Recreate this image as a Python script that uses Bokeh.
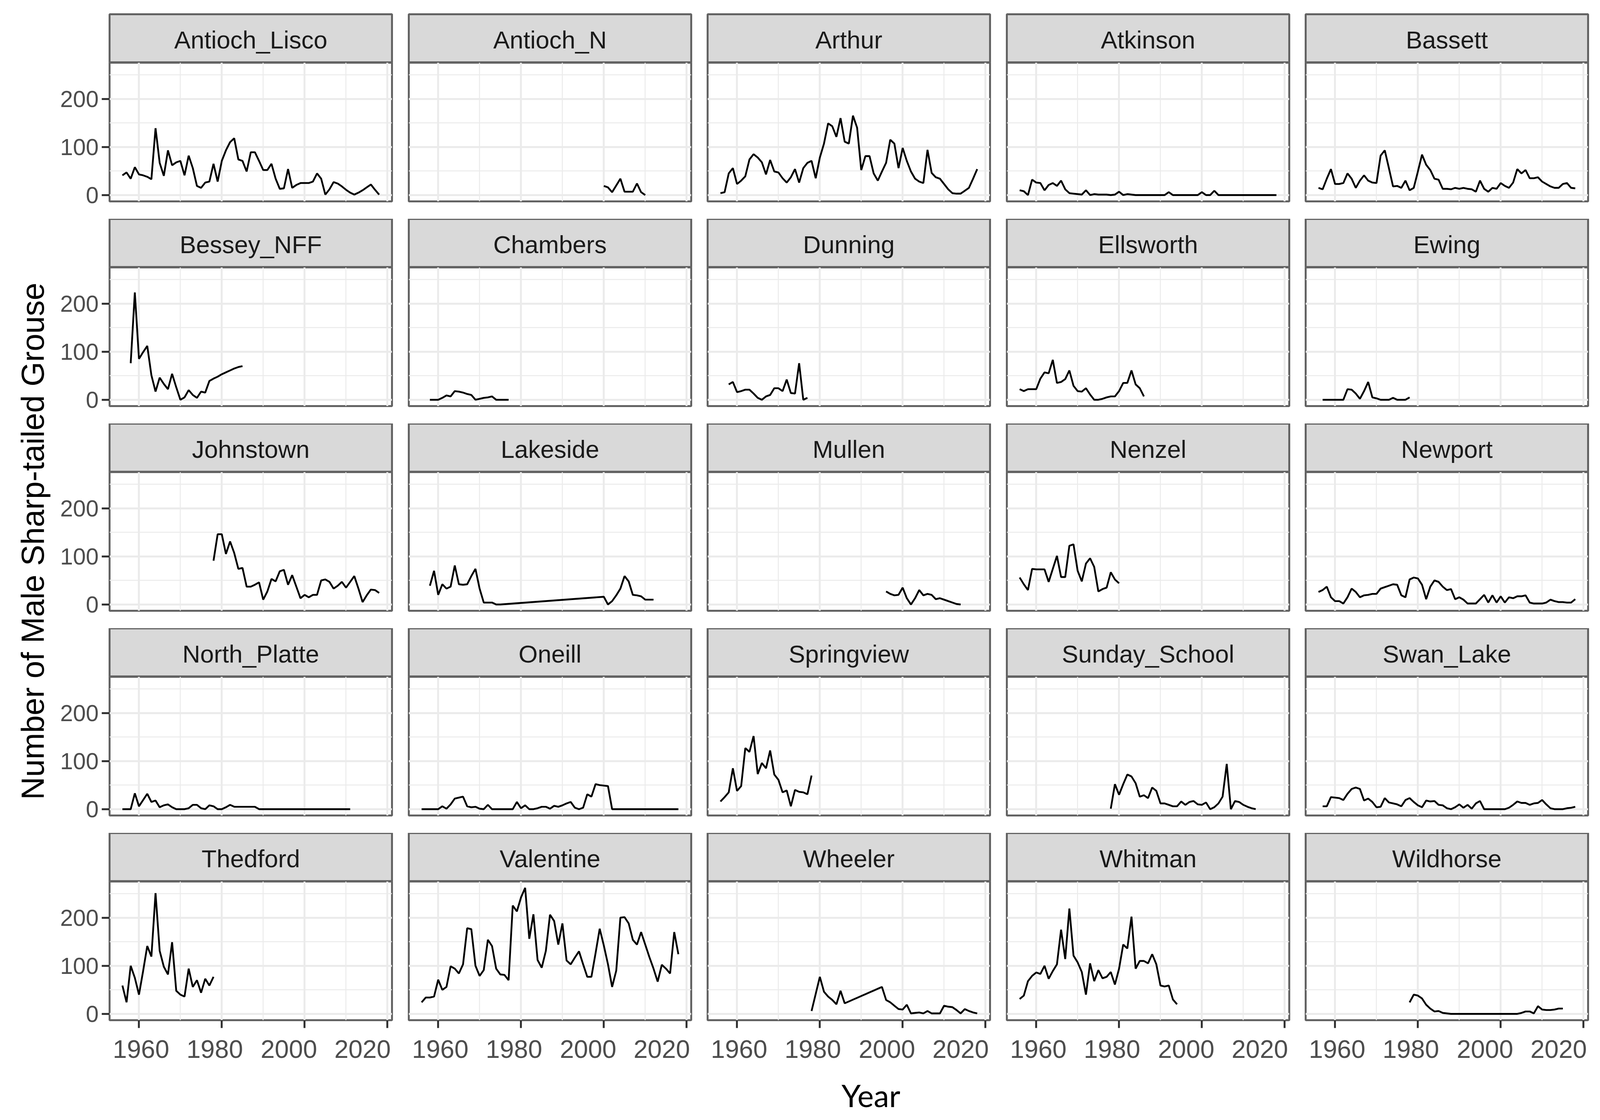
import math
from bokeh.plotting import figure
from bokeh.layouts import row, column
from bokeh.models import Range1d, FixedTicker, LinearAxis
from bokeh.embed import file_html
from bokeh.resources import INLINE
from bokeh.core.properties import value

# ---------------- data ----------------
SITES = ["Antioch_Lisco", "Antioch_N", "Arthur", "Atkinson", "Bassett",
         "Bessey_NFF", "Chambers", "Dunning", "Ellsworth", "Ewing",
         "Johnstown", "Lakeside", "Mullen", "Nenzel", "Newport",
         "North_Platte", "Oneill", "Springview", "Sunday_School", "Swan_Lake",
         "Thedford", "Valentine", "Wheeler", "Whitman", "Wildhorse"]

X_TICKS = [1960, 1980, 2000, 2020]
X_TICK_LABELS = ["1960", "1980", "2000", "2020"]
X_MINOR = [1950, 1970, 1990, 2010]
Y_TICKS = [0, 100, 200]
Y_MINOR = [50, 150, 250]
Y_TITLE = "Number of Male Sharp-tailed Grouse"
X_TITLE = "Year"

YR_ANTIOCH_LISCO = list(range(1956, 2019))
N_ANTIOCH_LISCO = [41, 47, 34, 58, 43, 41, 38, 33, 139, 67,
                   40, 93, 62, 68, 71, 41, 82, 56, 19, 15,
                   26, 28, 65, 28, 71, 93, 110, 118, 74, 71,
                   49, 89, 89, 71, 52, 52, 65, 34, 13, 14,
                   54, 15, 21, 25, 25, 25, 28, 45, 34, 1,
                   12, 27, 24, 18, 11, 5, 1, 5, 10, 16,
                   22, 11, 1]

YR_ANTIOCH_N = list(range(2000, 2011))
N_ANTIOCH_N = [19, 16, 6, 20, 34, 7, 7, 7, 24, 6, 0]

YR_ARTHUR = list(range(1956, 2019))
N_ARTHUR = [4, 6, 45, 56, 23, 30, 39, 74, 85, 78,
            68, 43, 73, 49, 47, 35, 26, 37, 54, 26,
            56, 67, 71, 35, 78, 107, 149, 143, 121, 160,
            111, 107, 165, 140, 52, 81, 81, 45, 30, 49,
            67, 115, 107, 56, 98, 71, 49, 34, 28, 25,
            94, 46, 37, 34, 23, 12, 4, 3, 3, 9,
            15, 34, 54]

YR_ATKINSON = list(range(1956, 2019))
N_ATKINSON = [10, 8, 0, 32, 26, 25, 10, 21, 25, 19,
              30, 12, 4, 3, 2, 1, 10, 0, 2, 1,
              1, 1, 0, 1, 7, 0, 2, 1, 0, 0,
              0, 0, 0, 0, 0, 0, 6, 0, 0, 0,
              0, 0, 0, 0, 6, 0, 0, 9, 0, 0,
              0, 0, 0, 0, 0, 0, 0, 0, 0, 0,
              0, 0, 0]

YR_BASSETT = list(range(1956, 2019))
N_BASSETT = [15, 12, 34, 54, 23, 23, 25, 45, 34, 15,
             30, 41, 30, 26, 25, 82, 93, 56, 18, 19,
             15, 30, 10, 15, 49, 84, 63, 52, 34, 32,
             13, 13, 12, 15, 13, 15, 13, 12, 7, 30,
             13, 7, 15, 13, 25, 19, 15, 26, 54, 45,
             52, 35, 35, 37, 28, 23, 18, 15, 15, 23,
             25, 15, 14]

YR_BESSEY_NFF = list(range(1958, 1986))
N_BESSEY_NFF = [76, 223, 85, 99, 112, 51, 17, 46, 33, 22,
                54, 26, 0, 5, 20, 10, 4, 17, 15, 39,
                44, 48, 53, 57, 61, 65, 68, 70]

YR_CHAMBERS = list(range(1958, 1978))
N_CHAMBERS = [0, 0, 0, 4, 9, 7, 18, 17, 15, 12,
              10, 0, 2, 4, 5, 7, 0, 0, 0, 0]

YR_DUNNING = list(range(1958, 1978))
N_DUNNING = [32, 37, 16, 18, 21, 21, 13, 4, 0, 7,
             10, 24, 24, 18, 42, 14, 13, 76, 0, 4]

YR_ELLSWORTH = list(range(1956, 1987))
N_ELLSWORTH = [22, 18, 22, 22, 22, 44, 57, 55, 83, 35,
               37, 43, 61, 29, 18, 17, 24, 11, 0, 0,
               2, 5, 7, 7, 18, 35, 35, 61, 32, 24, 7]

YR_EWING = list(range(1957, 1979))
N_EWING = [0, 0, 0, 0, 0, 0, 22, 21, 13, 2,
           18, 37, 5, 3, 0, 0, 0, 4, 0, 0, 0, 5]

YR_JOHNSTOWN = list(range(1978, 2019))
N_JOHNSTOWN = [91, 146, 146, 105, 131, 107, 74, 76, 37, 37,
               41, 46, 10, 27, 53, 48, 69, 72, 41, 61,
               37, 13, 20, 15, 20, 20, 50, 52, 47, 33,
               39, 47, 35, 47, 59, 33, 5, 19, 31, 30, 24]

YR_LAKESIDE = list(range(1958, 1976)) + list(range(2000, 2013))
N_LAKESIDE = [39, 70, 20, 42, 33, 37, 81, 42, 41, 42,
              59, 74, 33, 4, 4, 4, 0, 0,
              16, 0, 7, 19, 33, 59, 48, 20, 19, 17, 10, 10, 10]

YR_MULLEN = list(range(1996, 2015))
N_MULLEN = [27, 22, 19, 20, 35, 13, 0, 13, 30, 19,
            22, 20, 11, 13, 10, 7, 4, 1, 0]

YR_NENZEL = list(range(1956, 1981))
N_NENZEL = [56, 42, 30, 74, 73, 73, 73, 47, 74, 101,
            57, 57, 122, 125, 70, 48, 85, 96, 78, 27,
            32, 35, 67, 52, 44]

YR_NEWPORT = list(range(1956, 2019))
N_NEWPORT = [26, 30, 37, 15, 7, 7, 2, 15, 33, 26,
             15, 19, 20, 22, 22, 33, 36, 39, 42, 41,
             19, 15, 52, 56, 54, 41, 11, 37, 50, 47,
             37, 30, 32, 11, 15, 10, 2, 2, 2, 11,
             20, 4, 19, 4, 17, 4, 15, 13, 17, 17,
             19, 4, 2, 2, 2, 4, 10, 7, 5, 5,
             4, 4, 11]

YR_NORTH_PLATTE = list(range(1956, 2012))
N_NORTH_PLATTE = [0, 0, 0, 33, 6, 19, 32, 15, 18, 4,
                  8, 10, 4, 0, 0, 0, 2, 9, 9, 2,
                  0, 8, 6, 0, 0, 4, 9, 5, 5, 5,
                  5, 5, 5, 0, 0, 0, 0, 0, 0, 0,
                  0, 0, 0, 0, 0, 0, 0, 0, 0, 0,
                  0, 0, 0, 0, 0, 0]

YR_ONEILL = list(range(1956, 2019))
N_ONEILL = [0, 0, 0, 0, 0, 6, 1, 10, 22, 24,
            26, 6, 4, 5, 1, 0, 9, 0, 0, 0,
            0, 0, 0, 15, 2, 8, 0, 0, 2, 5,
            5, 1, 7, 5, 8, 12, 15, 3, 0, 3,
            31, 26, 52, 50, 49, 48, 0, 0, 0, 0,
            0, 0, 0, 0, 0, 0, 0, 0, 0, 0,
            0, 0, 0]

YR_SPRINGVIEW = list(range(1956, 1979))
N_SPRINGVIEW = [16, 25, 35, 85, 38, 48, 127, 119, 152, 73,
                96, 85, 122, 72, 61, 35, 39, 6, 40, 36,
                35, 31, 70]

YR_SUNDAY_SCHOOL = list(range(1978, 2014))
N_SUNDAY_SCHOOL = [1, 52, 30, 52, 72, 68, 54, 26, 29, 23,
                   45, 38, 12, 12, 9, 6, 6, 16, 9, 15,
                   17, 10, 9, 14, 0, 4, 12, 26, 94, 0,
                   17, 15, 9, 5, 2, 0]

YR_SWAN_LAKE = list(range(1957, 2019))
N_SWAN_LAKE = [6, 6, 25, 24, 23, 19, 32, 42, 45, 42,
               18, 22, 15, 4, 5, 23, 14, 12, 10, 6,
               19, 23, 15, 8, 4, 18, 16, 17, 9, 8,
               2, 0, 4, 10, 3, 9, 1, 12, 17, 0,
               0, 0, 0, 0, 0, 3, 9, 16, 13, 13,
               9, 12, 13, 19, 10, 2, 0, 0, 0, 2,
               3, 5]

YR_THEDFORD = list(range(1956, 1979))
N_THEDFORD = [59, 24, 100, 75, 40, 89, 141, 119, 251, 131,
              98, 82, 149, 48, 40, 36, 94, 56, 70, 44,
              73, 59, 77]

YR_VALENTINE = list(range(1956, 2019))
N_VALENTINE = [24, 34, 34, 36, 71, 50, 56, 99, 94, 84,
               103, 178, 176, 100, 79, 91, 154, 141, 94, 82,
               81, 70, 225, 213, 242, 262, 156, 207, 112, 96,
               131, 206, 193, 144, 188, 111, 103, 117, 130, 103,
               77, 77, 126, 177, 142, 103, 56, 90, 200, 201,
               188, 154, 144, 170, 144, 118, 94, 67, 102, 94,
               84, 170, 124]

YR_WHEELER = [1978] + list(range(1980, 1987)) + list(range(1995, 2019))
N_WHEELER = [6, 77, 46, 36, 29, 20, 48, 22,
             56, 29, 24, 17, 10, 9, 19, 1, 2, 3, 1, 6, 1, 1, 1,
             17, 15, 14, 8, 1, 10, 6, 3, 1]

YR_WHITMAN = list(range(1956, 1995))
N_WHITMAN = [31, 38, 68, 79, 86, 83, 100, 73, 89, 103,
             175, 114, 219, 121, 107, 87, 40, 105, 68, 91,
             74, 77, 87, 61, 94, 144, 136, 202, 94, 110,
             110, 105, 124, 103, 59, 57, 59, 30, 20]

YR_WILDHORSE = list(range(1978, 2016))
N_WILDHORSE = [24, 40, 38, 32, 19, 11, 5, 6, 2, 1,
               0, 0, 0, 0, 0, 0, 0, 0, 0, 0,
               0, 0, 0, 0, 0, 0, 0, 2, 5, 5,
               1, 16, 9, 8, 8, 9, 11, 11]

SERIES = {
    "Antioch_Lisco": (YR_ANTIOCH_LISCO, N_ANTIOCH_LISCO),
    "Antioch_N": (YR_ANTIOCH_N, N_ANTIOCH_N),
    "Arthur": (YR_ARTHUR, N_ARTHUR),
    "Atkinson": (YR_ATKINSON, N_ATKINSON),
    "Bassett": (YR_BASSETT, N_BASSETT),
    "Bessey_NFF": (YR_BESSEY_NFF, N_BESSEY_NFF),
    "Chambers": (YR_CHAMBERS, N_CHAMBERS),
    "Dunning": (YR_DUNNING, N_DUNNING),
    "Ellsworth": (YR_ELLSWORTH, N_ELLSWORTH),
    "Ewing": (YR_EWING, N_EWING),
    "Johnstown": (YR_JOHNSTOWN, N_JOHNSTOWN),
    "Lakeside": (YR_LAKESIDE, N_LAKESIDE),
    "Mullen": (YR_MULLEN, N_MULLEN),
    "Nenzel": (YR_NENZEL, N_NENZEL),
    "Newport": (YR_NEWPORT, N_NEWPORT),
    "North_Platte": (YR_NORTH_PLATTE, N_NORTH_PLATTE),
    "Oneill": (YR_ONEILL, N_ONEILL),
    "Springview": (YR_SPRINGVIEW, N_SPRINGVIEW),
    "Sunday_School": (YR_SUNDAY_SCHOOL, N_SUNDAY_SCHOOL),
    "Swan_Lake": (YR_SWAN_LAKE, N_SWAN_LAKE),
    "Thedford": (YR_THEDFORD, N_THEDFORD),
    "Valentine": (YR_VALENTINE, N_VALENTINE),
    "Wheeler": (YR_WHEELER, N_WHEELER),
    "Whitman": (YR_WHITMAN, N_WHITMAN),
    "Wildhorse": (YR_WILDHORSE, N_WILDHORSE),
}

# ---------------- style / layout ----------------
FONT = "Liberation Sans"
NCOL, NROW = 5, 5
SX = 4096 / 4238          # horizontal design units -> CSS px (visible width)


def cx(v):
    return int(round(v * SX))


def cy(v):
    return int(round(v))


# design geometry (units of the reference picture)
PAGE_W, PAGE_H = 4238, 2867
YT_END = 140
FRAME_W, STRIP_H, FRAME_H = 748, 124, 355
COL_PITCH, ROW_PITCH = 792, 524
FIRST_FRAME_X, FIRST_STRIP_Y = 290, 36
SIDE = 22
AXIS_END_Y = 2740
FL = [FIRST_FRAME_X + COL_PITCH * i for i in range(NCOL)]
FR = [f + FRAME_W for f in FL]
FIG_X0 = [YT_END] + [FL[i] - SIDE for i in range(1, NCOL)]
FIG_X1 = [FR[i] + SIDE for i in range(NCOL - 1)] + [PAGE_W]
ST = [FIRST_STRIP_Y + ROW_PITCH * j for j in range(NROW)]
PT = [s + STRIP_H for s in ST]
PB = [p + FRAME_H for p in PT]
PANEL_Y1 = ST[1:] + [AXIS_END_Y]

X_RANGE = (1952.9, 2021.1)
Y_RANGE = (-13.1, 275.1)
X_LABEL_POS = [1960.5, 1978.3, 1996.2, 2014.0]
BORDER = "#636363"
GRID = "#EBEBEB"


def base_fig(w, h, xr, yr, left, right, top, bottom, xloc=None, yloc=None):
    p = figure(width=w, height=h, x_range=xr, y_range=yr,
               x_axis_location=xloc, y_axis_location=yloc,
               toolbar_location=None, output_backend="svg",
               min_border_left=left, min_border_right=right,
               min_border_top=top, min_border_bottom=bottom)
    p.border_fill_color = "white"
    return p


def hsizes(ci):
    x0, x1 = cx(FIG_X0[ci]), cx(FIG_X1[ci])
    return x1 - x0, cx(FL[ci]) - x0, x1 - cx(FR[ci])


def make_strip(name, ci, rj):
    w, left, right = hsizes(ci)
    y0 = 0 if rj == 0 else cy(ST[rj])
    top = cy(ST[rj]) - y0
    h = cy(PT[rj]) - y0
    p = base_fig(w, h, Range1d(0, 1), Range1d(0, 1), left, right, top, 0)
    p.xgrid.visible = False
    p.ygrid.visible = False
    p.background_fill_color = "#D9D9D9"
    p.outline_line_color = BORDER
    p.outline_line_width = 5
    p.text(x=[0.5], y=[0.47], text=[name], text_align="center", text_baseline="middle",
           text_font=value(FONT), text_font_size="63px", text_color="#1A1A1A")
    return p


def style_axis(ax, size, standoff):
    ax.axis_line_color = None
    ax.major_tick_line_color = "#333333"
    ax.major_tick_line_width = 5
    ax.major_tick_out = 20
    ax.major_tick_in = 0
    ax.minor_tick_line_color = None
    ax.major_label_text_font = FONT
    ax.major_label_text_font_size = size
    ax.major_label_text_color = "#4D4D4D"
    ax.major_label_standoff = standoff


def make_panel(name, ci, rj):
    w, left, right = hsizes(ci)
    y0, y1 = cy(PT[rj]), cy(PANEL_Y1[rj])
    bottom = y1 - cy(PB[rj])
    last = rj == NROW - 1
    p = base_fig(w, y1 - y0, Range1d(*X_RANGE), Range1d(*Y_RANGE), left, right, 0, bottom,
                 xloc="below" if last else None, yloc="left" if ci == 0 else None)
    p.background_fill_color = "white"
    p.outline_line_color = BORDER
    p.outline_line_width = 5
    p.xgrid.ticker = FixedTicker(ticks=X_TICKS, minor_ticks=X_MINOR)
    p.ygrid.ticker = FixedTicker(ticks=Y_TICKS, minor_ticks=Y_MINOR)
    for g in (p.xgrid, p.ygrid):
        g.grid_line_color = GRID
        g.grid_line_width = 5
        g.minor_grid_line_color = GRID
        g.minor_grid_line_width = 2.5
    if ci == 0:
        p.yaxis.ticker = FixedTicker(ticks=Y_TICKS)
        style_axis(p.yaxis, "59px", 8)
    if last:
        # tick marks at the breaks
        p.xaxis.ticker = FixedTicker(ticks=X_TICKS)
        style_axis(p.xaxis, "1px", 0)
        p.xaxis.major_label_text_color = None
        # tick labels, placed as in the reference picture
        lab = LinearAxis(ticker=FixedTicker(ticks=X_LABEL_POS),
                         major_label_overrides=dict(zip(X_LABEL_POS, X_TICK_LABELS)))
        style_axis(lab, "65px", 31)
        lab.major_tick_line_color = None
        lab.major_tick_out = 0
        p.add_layout(lab, "below")
    yrs, cnt = SERIES[name]
    p.line(x=yrs, y=cnt, line_color="black", line_width=4.6)
    return p


rows = []
for rj in range(NROW):
    cells = []
    for ci in range(NCOL):
        name = SITES[rj * NCOL + ci]
        cells.append(column(make_strip(name, ci, rj), make_panel(name, ci, rj), spacing=0))
    rows.append(row(*cells, spacing=0))

total_w, total_h = cx(PAGE_W), cy(PAGE_H)
yt_w = cx(YT_END)
year_top = cy(AXIS_END_Y)

year_fig = base_fig(total_w - yt_w, total_h - year_top, Range1d(0, total_w - yt_w),
                    Range1d(0, total_h - year_top), 0, 0, 0, 0)
year_fig.xgrid.visible = False
year_fig.ygrid.visible = False
year_fig.outline_line_color = None
year_fig.text(x=[cx(2306) - yt_w], y=[total_h - cy(2803)], text=[X_TITLE],
              text_align="center", text_baseline="middle",
              text_font=value("Lato"), text_font_size="79px", text_color="black")

yt_fig = base_fig(yt_w, total_h, Range1d(0, yt_w), Range1d(0, total_h), 0, 0, 0, 0)
yt_fig.xgrid.visible = False
yt_fig.ygrid.visible = False
yt_fig.outline_line_color = None
yt_fig.text(x=[cx(86)], y=[total_h - cy(1385)], text=[Y_TITLE], angle=math.pi / 2,
            text_align="center", text_baseline="middle",
            text_font=value(FONT), text_font_size="81px", text_color="black")

layout = row(yt_fig, column(*rows, year_fig, spacing=0), spacing=0)

open("out.html", "w").write(file_html(layout, INLINE, "Sharp-tailed Grouse"))
